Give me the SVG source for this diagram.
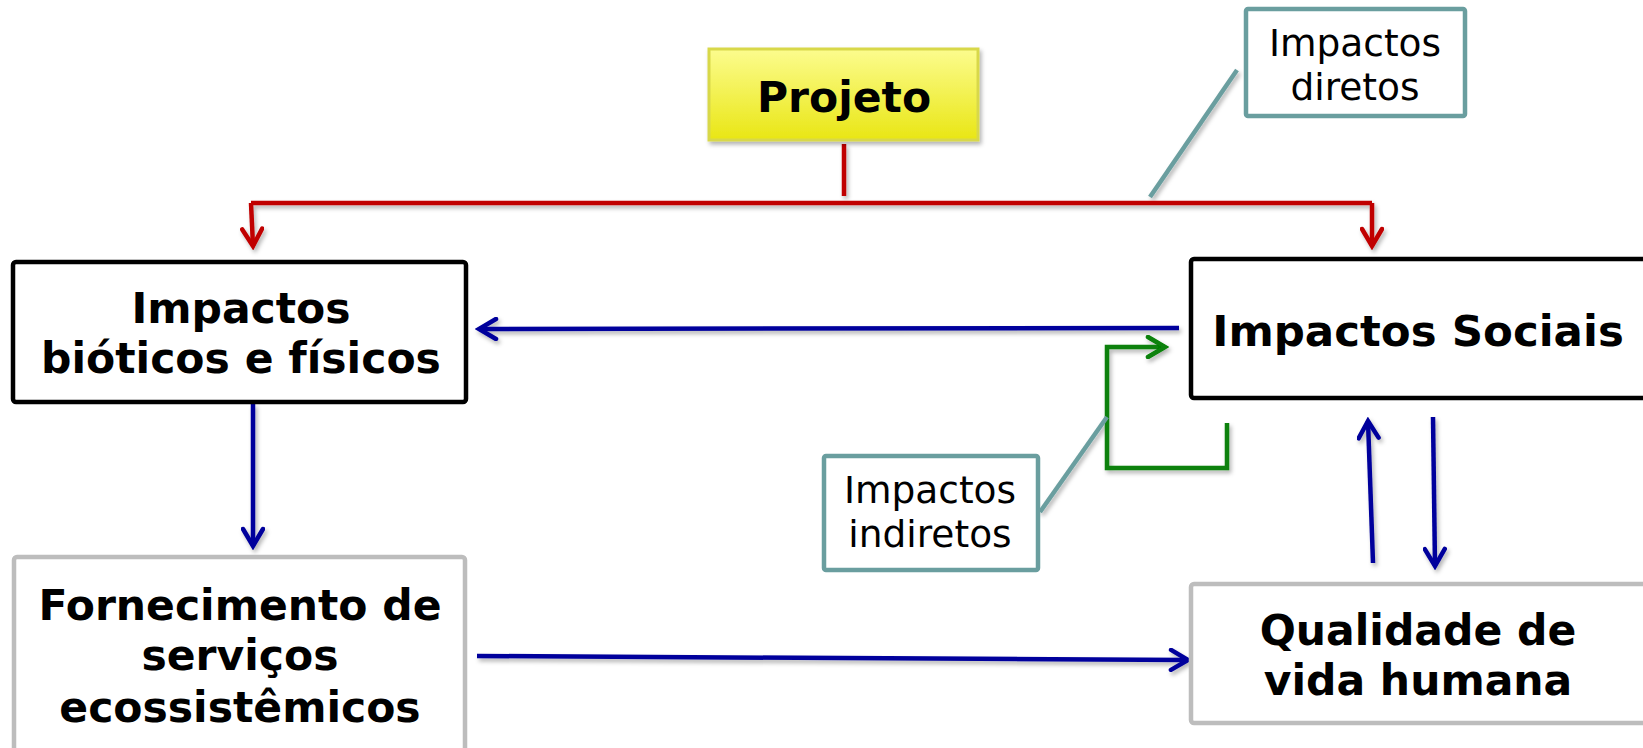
<svg xmlns="http://www.w3.org/2000/svg" width="1643" height="748" viewBox="0 0 1643 748">
<style>
.lbl{font-family:"DejaVu Sans",Verdana,sans-serif;font-weight:bold;font-size:42.5px;fill:#000;text-anchor:middle}
.note{font-family:"DejaVu Sans",Verdana,sans-serif;font-size:37.5px;fill:#000;text-anchor:middle}
.blk{fill:#fff;stroke:#000;stroke-width:4.5}
.gry{fill:#fff;stroke:#bdbdbd;stroke-width:4.5}
.tl{fill:#fff;stroke:#6a9e9f;stroke-width:4.5}
.red{fill:none;stroke:#c00000;stroke-width:4.5}
.blu{fill:none;stroke:#00009c;stroke-width:4.5}
.grn{fill:none;stroke:#078107;stroke-width:4.5}
.tll{fill:none;stroke:#6a9e9f;stroke-width:4.5}
</style>
<defs>
<linearGradient id="yel" x1="0" y1="0" x2="0" y2="1">
<stop offset="0" stop-color="#fcfc8e"/>
<stop offset="1" stop-color="#e9e614"/>
</linearGradient>
<filter id="sh" x="-10%" y="-10%" width="130%" height="140%">
<feDropShadow dx="2" dy="3" stdDeviation="2" flood-color="#000" flood-opacity="0.3"/>
</filter>
<marker id="ar" markerUnits="userSpaceOnUse" viewBox="-20 -12 24 24" markerWidth="24" markerHeight="24" refX="0" refY="0" orient="auto">
<path d="M-17,-10 L0,0 L-17,10" fill="none" stroke="#c00000" stroke-width="4.5" stroke-linecap="round"/>
</marker>
<marker id="ab" markerUnits="userSpaceOnUse" viewBox="-20 -12 24 24" markerWidth="24" markerHeight="24" refX="0" refY="0" orient="auto">
<path d="M-17,-10 L0,0 L-17,10" fill="none" stroke="#00009c" stroke-width="4.5" stroke-linecap="round"/>
</marker>
<marker id="ag" markerUnits="userSpaceOnUse" viewBox="-20 -12 24 24" markerWidth="24" markerHeight="24" refX="0" refY="0" orient="auto">
<path d="M-17,-10 L0,0 L-17,10" fill="none" stroke="#078107" stroke-width="4.5" stroke-linecap="round"/>
</marker>
</defs>
<rect width="1643" height="748" fill="#fff"/>
<g id="connectors" filter="url(#sh)">
<path class="red" d="M844,144 L844,196"/>
<path class="red" d="M251,203 L1372,203"/>
<path class="red" d="M251,203 L253,246" marker-end="url(#ar)"/>
<path class="red" d="M1372,203 L1372,246" marker-end="url(#ar)"/>
<path class="blu" d="M1179,328 L479,329" marker-end="url(#ab)"/>
<path class="blu" d="M253,404 L253,546" marker-end="url(#ab)"/>
<path class="blu" d="M477,656 L1188,660" marker-end="url(#ab)"/>
<path class="blu" d="M1373,563 L1368,421" marker-end="url(#ab)"/>
<path class="blu" d="M1433,417 L1435,566" marker-end="url(#ab)"/>
<path class="grn" d="M1227,423 L1227,468 L1107,468 L1107,347 L1165,347" marker-end="url(#ag)"/>
<path class="tll" d="M1237,70 L1150,197"/>
<path class="tll" d="M1040,512 L1107,417"/>
</g>
<g id="projeto">
<rect x="709" y="49" width="269" height="91" fill="url(#yel)" stroke="#d8d84a" stroke-width="3" filter="url(#sh)"/>
<text class="lbl" x="844" y="112">Projeto</text>
</g>
<g id="impactos-diretos">
<rect class="tl" x="1246" y="9" width="219" height="107" rx="2"/>
<text class="note" x="1355" y="56">Impactos</text>
<text class="note" x="1355" y="100">diretos</text>
</g>
<g id="impactos-bioticos">
<rect class="blk" x="13" y="262" width="453" height="140" rx="3"/>
<text class="lbl" x="241" y="323">Impactos</text>
<text class="lbl" x="241" y="373">bióticos e físicos</text>
</g>
<g id="impactos-sociais">
<rect class="blk" x="1191" y="259" width="455" height="139" rx="3"/>
<text class="lbl" x="1418" y="346" style="font-size:43.5px">Impactos Sociais</text>
</g>
<g id="impactos-indiretos">
<rect class="tl" x="824" y="456" width="214" height="114" rx="2"/>
<text class="note" x="930" y="503">Impactos</text>
<text class="note" x="930" y="547">indiretos</text>
</g>
<g id="fornecimento">
<rect class="gry" x="14" y="557" width="451" height="200" rx="3"/>
<text class="lbl" x="240" y="620">Fornecimento de</text>
<text class="lbl" x="240" y="670">serviços</text>
<text class="lbl" x="240" y="722">ecossistêmicos</text>
</g>
<g id="qualidade">
<rect class="gry" x="1191" y="584" width="455" height="139" rx="3"/>
<text class="lbl" x="1418" y="645">Qualidade de</text>
<text class="lbl" x="1418" y="695">vida humana</text>
</g>
</svg>
